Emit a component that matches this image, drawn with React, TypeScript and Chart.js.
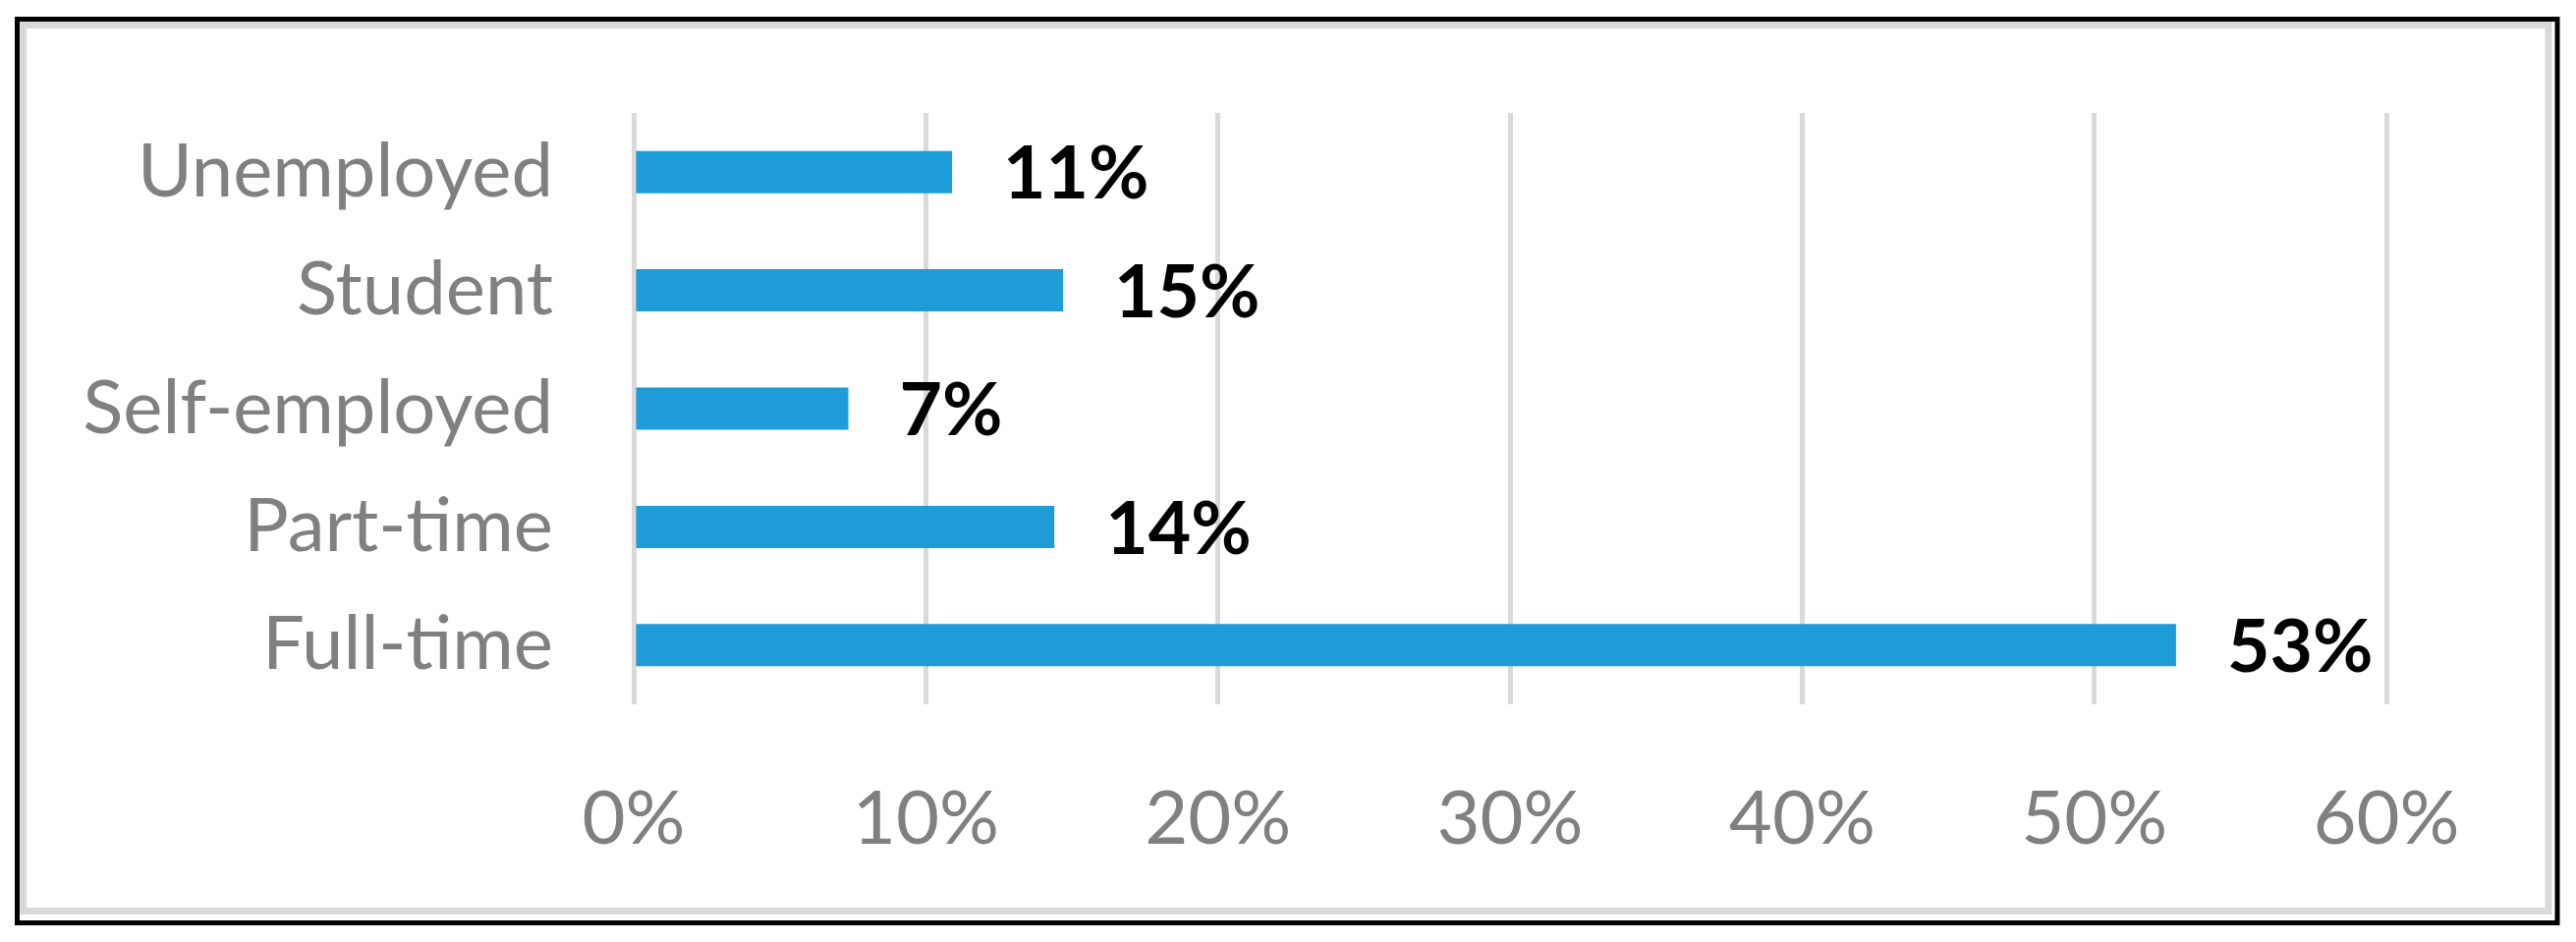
import React, { useEffect, useRef } from "react";
import { Chart, registerables } from "chart.js";

Chart.register(...registerables);

const categories = ["Unemployed", "Student", "Self-employed", "Part-time", "Full-time"];
const values = [10.9, 14.7, 7.35, 14.4, 52.8];
const valueLabels = ["11%", "15%", "7%", "14%", "53%"];
const xTicks = [0, 10, 20, 30, 40, 50, 60];

const FONT = "Lato, 'Open Sans', sans-serif";

const framePlugin = {
  id: "frame",
  beforeDraw(chart: any) {
    const ctx = chart.ctx;
    const w = chart.width;
    const h = chart.height;
    ctx.save();
    ctx.fillStyle = "#ffffff";
    ctx.fillRect(0, 0, w, h);
    // black outer frame
    ctx.strokeStyle = "#000000";
    ctx.lineWidth = 5;
    ctx.strokeRect(17.5, 19.5, 2603 - 17.5, 939.5 - 19.5);
    // grey inner frame
    ctx.strokeStyle = "#d9d9d9";
    ctx.lineWidth = 7;
    ctx.strokeRect(23.5, 25.5, 2594 - 23.5, 927.5 - 25.5);
    ctx.restore();
  },
};

const valueLabelPlugin = {
  id: "valueLabels",
  afterDatasetsDraw(chart: any) {
    const ctx = chart.ctx;
    const meta = chart.getDatasetMeta(0);
    ctx.save();
    ctx.fillStyle = "#000000";
    ctx.font = `bold 75px ${FONT}`;
    ctx.textAlign = "left";
    ctx.textBaseline = "middle";
    meta.data.forEach((bar: any, i: number) => {
      ctx.fillText(valueLabels[i], bar.x + 52, bar.y + 3);
    });
    ctx.restore();
  },
};

export default function App() {
  const ref = useRef<HTMLCanvasElement | null>(null);

  useEffect(() => {
    if (!ref.current) return;
    const chart = new Chart(ref.current, {
      type: "bar",
      data: {
        labels: categories,
        datasets: [
          {
            data: values,
            backgroundColor: "#1E9CD7",
            borderWidth: 0,
            categoryPercentage: 1,
            barPercentage: 0.357,
          },
        ],
      },
      options: {
        indexAxis: "y",
        animation: false,
        responsive: false,
        maintainAspectRatio: false,
        layout: { padding: { left: 0, right: 193, top: 115, bottom: 0 } },
        plugins: {
          legend: { display: false },
          tooltip: { enabled: false },
          title: { display: false },
        },
        scales: {
          x: {
            type: "linear",
            min: 0,
            max: 60,
            afterBuildTicks: (scale: any) => {
              scale.ticks = xTicks.map((v) => ({ value: v }));
            },
            afterFit: (scale: any) => {
              scale.height = 242;
              scale.paddingLeft = 0;
              scale.paddingRight = 0;
            },
            grid: {
              display: true,
              color: "#d9d9d9",
              lineWidth: 5,
              drawTicks: false,
            },
            border: { display: false },
            ticks: {
              padding: 72,
              color: "#808080",
              font: { family: FONT, size: 76 },
              callback: (v: any) => `${v}%`,
            },
          },
          y: {
            type: "category",
            afterFit: (scale: any) => {
              scale.width = 645;
              scale.paddingTop = 0;
              scale.paddingBottom = 0;
            },
            grid: { display: false, drawTicks: false },
            border: { display: false },
            ticks: {
              padding: 82,
              color: "#808080",
              font: { family: FONT, size: 76 },
            },
          },
        },
      },
      plugins: [framePlugin, valueLabelPlugin],
    });
    return () => chart.destroy();
  }, []);

  return (
    <div style={{ position: "fixed", left: 0, top: 0, width: 2622, height: 959, background: "#fff" }}>
      <canvas ref={ref} width={2622} height={959} style={{ display: "block", width: 2622, height: 959 }} />
    </div>
  );
}
